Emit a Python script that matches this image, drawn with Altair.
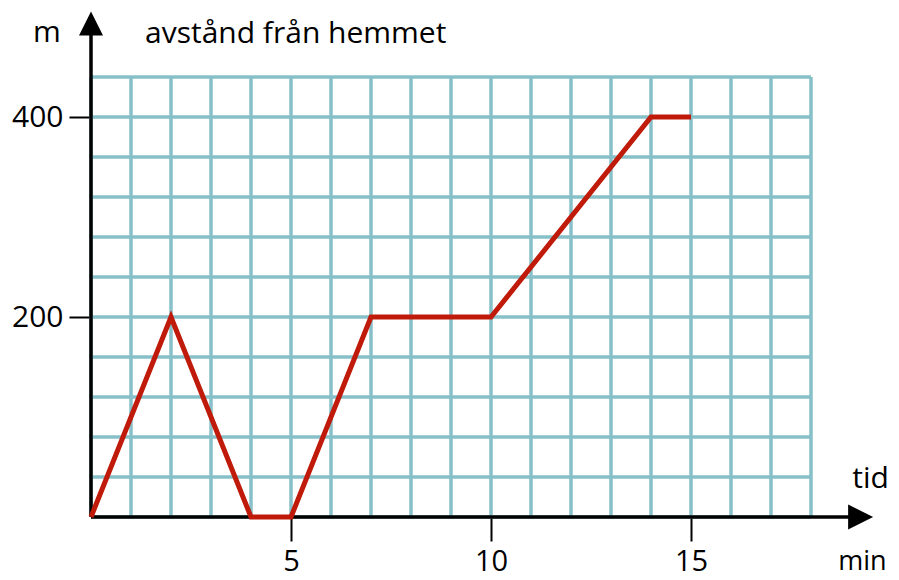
import altair as alt
import pandas as pd

# Data
times = [0, 2, 4, 5, 7, 10, 14, 15]          # min
dist = [0, 200, 0, 0, 200, 200, 400, 400]    # m

grid_x = list(range(0, 19))                  # vertical grid lines (min)
grid_y = list(range(0, 441, 40))             # horizontal grid lines (m)
x_labels = [5, 10, 15]
y_labels = [200, 400]

X_MAX = 18
Y_MAX = 440

FONT = "Open Sans"
GRID = "#87c0c9"
RED = "#bf1a0a"

line_df = pd.DataFrame({"t": times, "d": dist})
vgrid = pd.DataFrame({"t": grid_x, "d0": [0] * len(grid_x), "d1": [Y_MAX] * len(grid_x)})
hgrid = pd.DataFrame({"d": grid_y, "t0": [0] * len(grid_y), "t1": [X_MAX] * len(grid_y)})

xs = alt.Scale(domain=[0, X_MAX], nice=False, zero=False)
ys = alt.Scale(domain=[0, Y_MAX], nice=False, zero=False)

x_axis = alt.Axis(values=x_labels, grid=False, domain=False, ticks=True, tickSize=24,
                  tickWidth=2, tickColor="black", labelFont=FONT, labelFontSize=29,
                  labelColor="black", labelPadding=6, title=None)
y_axis = alt.Axis(values=y_labels, grid=False, domain=False, ticks=True, tickSize=22,
                  tickWidth=2, tickColor="black", labelFont=FONT, labelFontSize=30,
                  labelColor="black", labelPadding=6, title=None)

vlines = alt.Chart(vgrid).mark_rule(color=GRID, strokeWidth=3.5).encode(
    x=alt.X("t:Q", scale=xs, axis=x_axis),
    y=alt.Y("d0:Q", scale=ys, axis=y_axis),
    y2="d1:Q",
)
hlines = alt.Chart(hgrid).mark_rule(color=GRID, strokeWidth=3.5).encode(
    y=alt.Y("d:Q", scale=ys),
    x=alt.X("t0:Q", scale=xs),
    x2="t1:Q",
)

# axis shafts and arrowheads
xshaft = alt.Chart(pd.DataFrame({"a": [0], "b": [18.95], "d": [0]})).mark_rule(
    color="black", strokeWidth=3.5).encode(x=alt.X("a:Q", scale=xs), x2="b:Q", y=alt.Y("d:Q", scale=ys))
yshaft = alt.Chart(pd.DataFrame({"a": [0], "b": [486], "t": [0]})).mark_rule(
    color="black", strokeWidth=3.5).encode(y=alt.Y("a:Q", scale=ys), y2="b:Q", x=alt.X("t:Q", scale=xs))

xhead = alt.Chart(pd.DataFrame({"t": [19.24], "d": [0]})).mark_point(
    shape="M-1,-1L1,0L-1,1Z", filled=True, fill="black", stroke=None, opacity=1, size=625
).encode(x=alt.X("t:Q", scale=xs), y=alt.Y("d:Q", scale=ys))
yhead = alt.Chart(pd.DataFrame({"t": [0], "d": [493.5]})).mark_point(
    shape="M-1,1L0,-1L1,1Z", filled=True, fill="black", stroke=None, opacity=1, size=576
).encode(x=alt.X("t:Q", scale=xs), y=alt.Y("d:Q", scale=ys))

line = alt.Chart(line_df).mark_line(color=RED, strokeWidth=5, strokeJoin="miter").encode(
    x=alt.X("t:Q", scale=xs),
    y=alt.Y("d:Q", scale=ys),
)

texts = pd.DataFrame({
    "label": ["m", "avstånd från hemmet", "tid", "min"],
    "t": [-1.1, 1.35, 19.03, 18.68],
    "d": [475, 474, 29, -53],
    "align": ["center", "left", "left", "left"],
    "size": [30, 30, 30, 27],
})

def txt(i):
    row = texts.iloc[[i]]
    return alt.Chart(row).mark_text(font=FONT, fontSize=int(row["size"].iloc[0]), color="black",
                                    align=row["align"].iloc[0], baseline="alphabetic").encode(
        x=alt.X("t:Q", scale=xs), y=alt.Y("d:Q", scale=ys), text="label:N")

chart = alt.layer(
    vlines, hlines, xshaft, yshaft, xhead, yhead, line, txt(0), txt(1), txt(2), txt(3)
).properties(
    width=720, height=440,
    autosize=alt.AutoSizeParams(type="none"),
    padding={"left": 83, "top": 69, "right": 80, "bottom": 63},
).configure_view(stroke=None)

chart.save("out.html", embed_options={"renderer": "svg", "actions": False})
